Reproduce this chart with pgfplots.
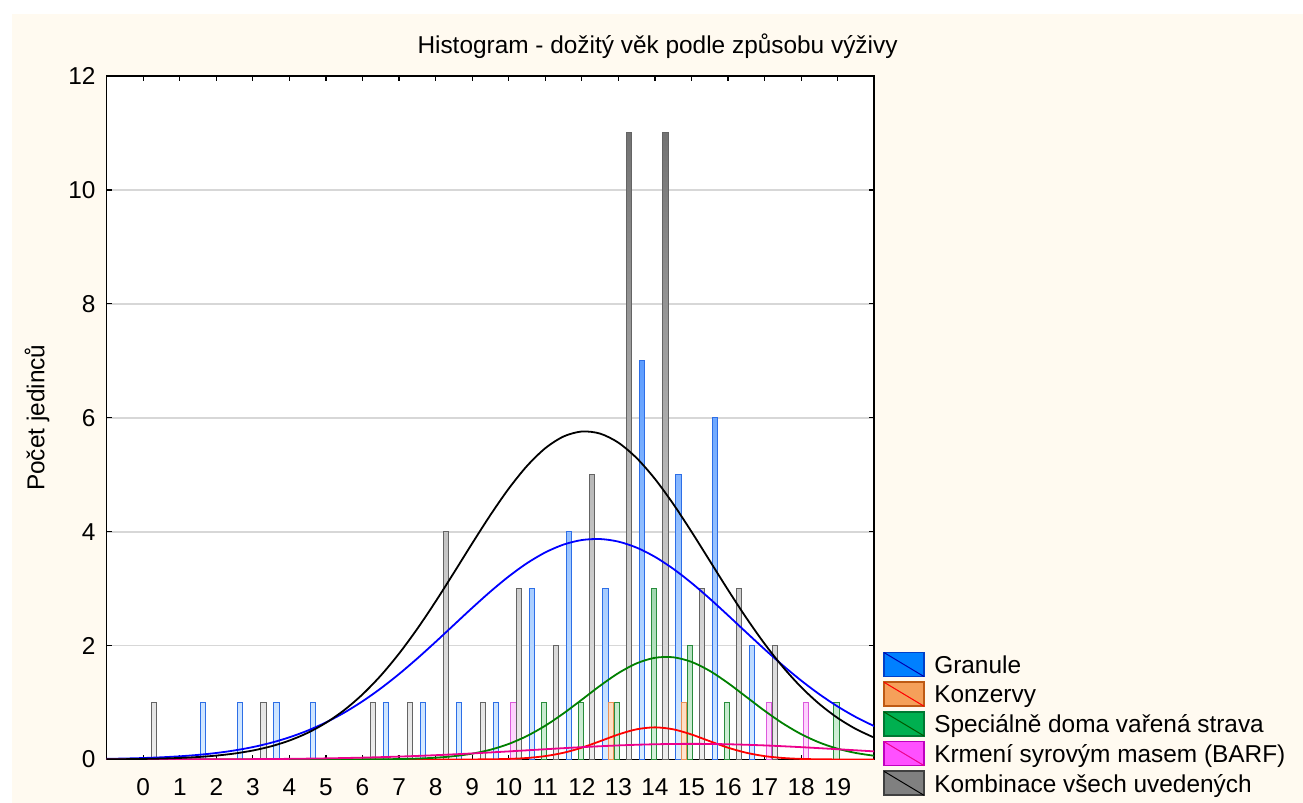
\documentclass[border=0pt]{standalone}
\usepackage{pgfplots}
\usepackage{pgfplotstable}
\pgfplotsset{compat=1.18}
\usepackage{fontspec}
\setmainfont{Liberation Sans}

\definecolor{cream}{RGB}{255,250,240}
\definecolor{gridgrey}{RGB}{215,215,215}
% bar colours: light (bottom), dark (top of full scale), border
\definecolor{bL}{RGB}{220,238,255}\definecolor{bD}{RGB}{20,110,255}\definecolor{bB}{RGB}{45,110,230}
\definecolor{oL}{RGB}{255,230,208}\definecolor{oD}{RGB}{240,120,40}\definecolor{oB}{RGB}{235,145,85}
\definecolor{gL}{RGB}{215,242,220}\definecolor{gD}{RGB}{10,140,55}\definecolor{gB}{RGB}{40,140,60}
\definecolor{pL}{RGB}{255,222,255}\definecolor{pD}{RGB}{230,40,230}\definecolor{pB}{RGB}{220,90,220}
\definecolor{kL}{RGB}{238,238,238}\definecolor{kD}{RGB}{115,115,115}\definecolor{kB}{RGB}{100,100,100}
% legend swatches
\definecolor{gfill}{RGB}{0,128,255}\definecolor{gbord}{RGB}{0,64,200}
\definecolor{ofill}{RGB}{245,160,90}\definecolor{obord}{RGB}{190,90,20}
\definecolor{sfill}{RGB}{0,176,80}\definecolor{sbord}{RGB}{0,120,50}
\definecolor{mfill}{RGB}{255,80,255}\definecolor{mbord}{RGB}{190,0,190}
\definecolor{cfill}{RGB}{128,128,128}\definecolor{cbord}{RGB}{64,64,64}
\definecolor{curgreen}{RGB}{0,128,0}

\pgfplotstableread{
x y
2 1
3 1
4 1
5 1
7 1
8 1
9 1
10 1
11 3
12 4
13 3
14 7
15 5
16 6
17 2
}\granule
\pgfplotstableread{
x y
13 1
15 1
}\konzervy
\pgfplotstableread{
x y
11 1
12 1
13 1
14 3
15 2
16 1
19 1
}\specialni
\pgfplotstableread{
x y
10 1
17 1
18 1
}\barf
\pgfplotstableread{
x y
0 1
3 1
6 1
7 1
8 4
9 1
10 3
11 2
12 5
13 11
14 11
15 3
16 3
17 2
}\kombinace

% #1 table, #2 shift, #3 height, #4 light, #5 dark, #6 pct, #7 border
\newcommand{\hbars}[7]{%
\addplot[ybar, forget plot, bar width=0.14, bar shift=#2, draw=#7, line width=0.45pt,
  top color=#5!#6!#4, bottom color=#4, restrict y to domain=\the\numexpr#3-1\relax.5:#3.5] table[x=x,y=y] {#1};}

\newcommand{\swatch}[3]{\addlegendimage{legend image code/.code={%
  \draw[fill=#1,draw=#2,line width=0.85pt] (0pt,-1.63pt) rectangle (20pt,10.37pt);
  \draw[#3,line width=0.5pt] (0pt,10.37pt) -- (20pt,-1.63pt);}}}

\begin{document}
\begin{tikzpicture}[x=1pt,y=1pt]
\useasboundingbox (0,0) rectangle (651.5,401.5);
\fill[cream] (6,0) rectangle (651.5,394.5);
\begin{axis}[
  at={(53.35pt,21.75pt)}, anchor=south west,
  scale only axis, width=383.75pt, height=341.75pt,
  xmin=-1, xmax=20, ymin=0, ymax=12,
  xtick={0,...,19}, ytick={0,2,...,12},
  xtick pos=both, ytick pos=both,
  tick align=inside, major tick length=2.4pt,
  axis background/.style={fill=white},
  ymajorgrids, grid style={color=gridgrey, line width=0.9pt},
  axis line style={line width=0.75pt},
  every tick/.style={black, line width=0.6pt},
  tick label style={font=\fontsize{12.2}{14}\selectfont},
  /pgf/number format/assume math mode=true,
  xticklabel style={anchor=base, yshift=-18pt},
  yticklabel style={anchor=east, xshift=-2.1pt},
  every axis title shift=0pt,
  title={Histogram - dožitý věk podle způsobu výživy},
  title style={at={(axis description cs:0.7177,1.0332)}, anchor=base, font=\fontsize{12.2}{14}\selectfont},
  ylabel={Počet jedinců},
  ylabel style={at={(axis description cs:-0.0813,0.5)}, anchor=base, font=\fontsize{12.2}{14}\selectfont},
  legend style={at={(axis description cs:1.0117,0.1577)}, anchor=north west, draw=none, fill=none,
    inner sep=0pt, outer sep=0pt, row sep=1.35pt, column sep=4.7pt,
    font=\fontsize{12.2}{14}\selectfont,
    nodes={inner sep=0pt, text height=9.5pt, text depth=2.7pt},
    cells={anchor=base west}},
]
% Granule
\hbars{\granule}{-0.355}{1}{bL}{bD}{9}{bB}
\hbars{\granule}{-0.355}{2}{bL}{bD}{18}{bB}
\hbars{\granule}{-0.355}{3}{bL}{bD}{27}{bB}
\hbars{\granule}{-0.355}{4}{bL}{bD}{36}{bB}
\hbars{\granule}{-0.355}{5}{bL}{bD}{45}{bB}
\hbars{\granule}{-0.355}{6}{bL}{bD}{55}{bB}
\hbars{\granule}{-0.355}{7}{bL}{bD}{64}{bB}
% Konzervy
\hbars{\konzervy}{-0.194}{1}{oL}{oD}{9}{oB}
% Specialne doma varena strava
\hbars{\specialni}{-0.033}{1}{gL}{gD}{9}{gB}
\hbars{\specialni}{-0.033}{2}{gL}{gD}{18}{gB}
\hbars{\specialni}{-0.033}{3}{gL}{gD}{27}{gB}
% BARF
\hbars{\barf}{0.128}{1}{pL}{pD}{9}{pB}
% Kombinace
\hbars{\kombinace}{0.289}{1}{kL}{kD}{9}{kB}
\hbars{\kombinace}{0.289}{2}{kL}{kD}{18}{kB}
\hbars{\kombinace}{0.289}{3}{kL}{kD}{27}{kB}
\hbars{\kombinace}{0.289}{4}{kL}{kD}{36}{kB}
\hbars{\kombinace}{0.289}{5}{kL}{kD}{45}{kB}
\hbars{\kombinace}{0.289}{11}{kL}{kD}{100}{kB}

% fitted normal curves
\addplot[forget plot, smooth, blue, line width=0.9pt] coordinates {(-1,0.0112)(-0.5,0.0171)(0,0.0259)(0.5,0.0385)(1,0.0562)(1.5,0.0808)(2,0.1143)(2.5,0.1592)(3,0.2182)(3.5,0.2939)(4,0.3897)(4.5,0.5080)(5,0.6519)(5.5,0.8228)(6,1.0220)(6.5,1.2486)(7,1.5008)(7.5,1.7748)(8,2.0649)(8.5,2.3634)(9,2.6615)(9.5,2.9484)(10,3.2138)(10.5,3.4462)(11,3.6355)(11.5,3.7732)(12,3.8528)(12.5,3.8705)(13,3.8253)(13.5,3.7194)(14,3.5580)(14.5,3.3485)(15,3.1004)(15.5,2.8242)(16,2.5310)(16.5,2.2316)(17,1.9357)(17.5,1.6520)(18,1.3869)(18.5,1.1455)(19,0.9309)(19.5,0.7443)(20,0.5855)};
\addplot[forget plot, smooth, red, line width=0.9pt] coordinates {(-1,0)(2,0)(5,0)(7,0)(8,0.0001)(8.5,0.0003)(9,0.0011)(9.5,0.0036)(10,0.0103)(10.5,0.0264)(11,0.0595)(11.5,0.1183)(12,0.2076)(12.5,0.3215)(13,0.4394)(13.5,0.5300)(14,0.5642)(14.5,0.5300)(15,0.4394)(15.5,0.3215)(16,0.2076)(16.5,0.1183)(17,0.0595)(17.5,0.0264)(18,0.0103)(18.5,0.0036)(19,0.0011)(19.5,0.0003)(20,0.0001)};
\addplot[forget plot, smooth, curgreen, line width=0.9pt] coordinates {(-1,0)(1,0)(3,0)(4,0)(5,0.0003)(5.5,0.0007)(6,0.0016)(6.5,0.0036)(7,0.0078)(7.5,0.0161)(8,0.0314)(8.5,0.0582)(9,0.1025)(9.5,0.1716)(10,0.2731)(10.5,0.4129)(11,0.5932)(11.5,0.8097)(12,1.0503)(12.5,1.2947)(13,1.5166)(13.5,1.6881)(14,1.7855)(14.5,1.7947)(15,1.7141)(15.5,1.5558)(16,1.3418)(16.5,1.0996)(17,0.8564)(17.5,0.6338)(18,0.4458)(18.5,0.2979)(19,0.1892)(19.5,0.1142)(20,0.0654)};
\addplot[forget plot, smooth, magenta, line width=0.9pt] coordinates {(-1,0.0003)(0,0.0007)(1,0.0016)(2,0.0032)(3,0.0062)(4,0.0114)(5,0.0198)(6,0.0326)(7,0.0510)(8,0.0756)(9,0.1065)(10,0.1422)(11,0.1802)(12,0.2167)(13,0.2472)(14,0.2675)(15,0.2746)(16,0.2675)(17,0.2472)(18,0.2167)(19,0.1802)(20,0.1422)};
\addplot[forget plot, smooth, black, line width=0.9pt] coordinates {(-1,0.0033)(-0.5,0.0058)(0,0.0100)(0.5,0.0167)(1,0.0273)(1.5,0.0437)(2,0.0685)(2.5,0.1051)(3,0.1577)(3.5,0.2316)(4,0.3330)(4.5,0.4683)(5,0.6444)(5.5,0.8677)(6,1.1436)(6.5,1.4742)(7,1.8601)(7.5,2.2962)(8,2.7741)(8.5,3.2793)(9,3.7933)(9.5,4.2936)(10,4.7551)(10.5,5.1534)(11,5.4651)(11.5,5.6710)(12,5.7584)(12.5,5.7215)(13,5.5628)(13.5,5.2922)(14,4.9266)(14.5,4.4878)(15,4.0003)(15.5,3.4891)(16,2.9779)(16.5,2.4871)(17,2.0324)(17.5,1.6251)(18,1.2716)(18.5,0.9737)(19,0.7294)(19.5,0.5349)(20,0.3837)};

\swatch{gfill}{gbord}{blue!70!black}
\addlegendentry{Granule}
\swatch{ofill}{obord}{red}
\addlegendentry{Konzervy}
\swatch{sfill}{sbord}{curgreen!70!black}
\addlegendentry{Speciálně doma vařená strava}
\swatch{mfill}{mbord}{magenta}
\addlegendentry{Krmení syrovým masem (BARF)}
\swatch{cfill}{cbord}{black}
\addlegendentry{Kombinace všech uvedených}
\end{axis}
\end{tikzpicture}
\end{document}
